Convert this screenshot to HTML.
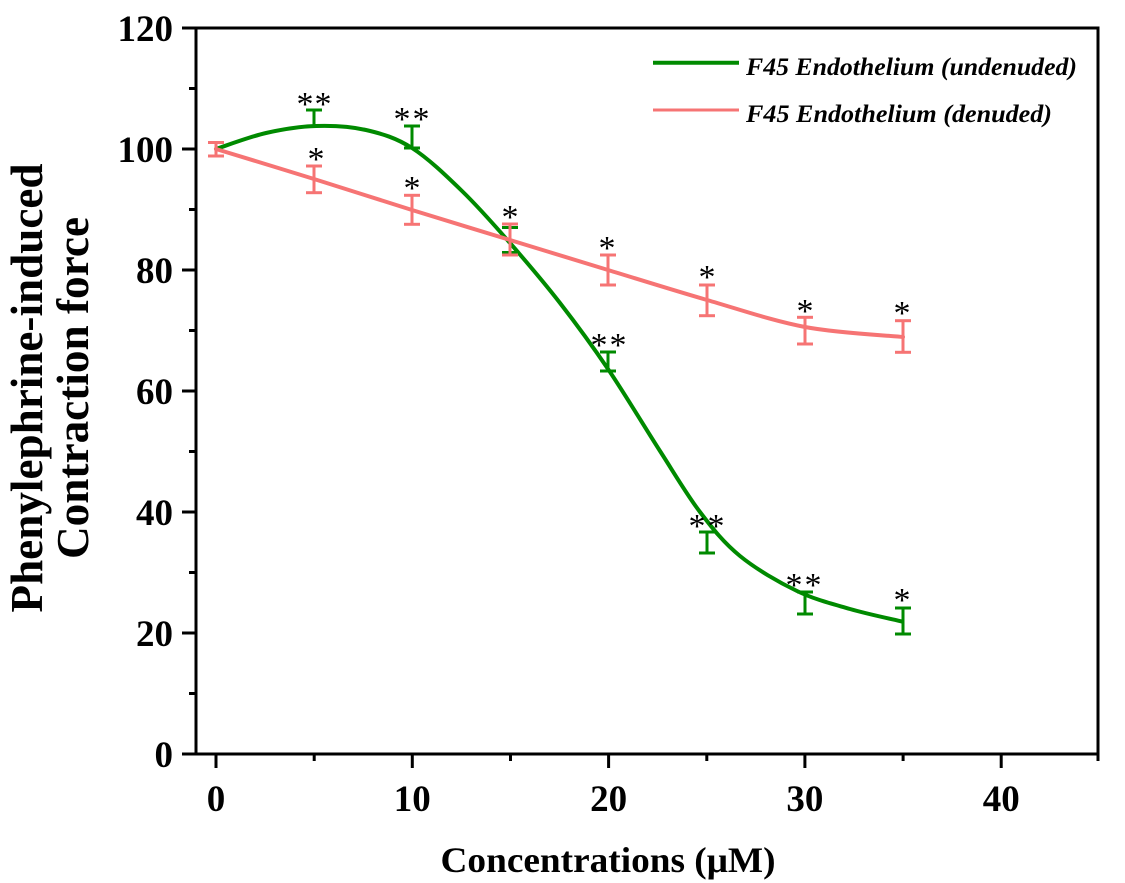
<!DOCTYPE html>
<html>
<head>
<meta charset="utf-8">
<style>
html,body{margin:0;padding:0;background:#fff;}
svg{display:block;}
text{font-family:"Liberation Serif","Times New Roman",serif;}
</style>
</head>
<body>
<svg width="1125" height="883" viewBox="0 0 1125 883" xmlns="http://www.w3.org/2000/svg">
<rect width="1125" height="883" fill="#fff"/>

<!-- axes box -->
<rect x="196" y="28" width="902" height="726" fill="none" stroke="#000" stroke-width="3"/>

<!-- y ticks -->
<g stroke="#000" stroke-width="3">
<line x1="182" y1="754" x2="196" y2="754"/>
<line x1="182" y1="633" x2="196" y2="633"/>
<line x1="182" y1="512" x2="196" y2="512"/>
<line x1="182" y1="391" x2="196" y2="391"/>
<line x1="182" y1="270" x2="196" y2="270"/>
<line x1="182" y1="149" x2="196" y2="149"/>
<line x1="182" y1="28" x2="196" y2="28"/>
<line x1="189" y1="693.5" x2="196" y2="693.5"/>
<line x1="189" y1="572.5" x2="196" y2="572.5"/>
<line x1="189" y1="451.5" x2="196" y2="451.5"/>
<line x1="189" y1="330.5" x2="196" y2="330.5"/>
<line x1="189" y1="209.5" x2="196" y2="209.5"/>
<line x1="189" y1="88.5" x2="196" y2="88.5"/>
<!-- x ticks -->
<line x1="216" y1="754" x2="216" y2="768"/>
<line x1="412.3" y1="754" x2="412.3" y2="768"/>
<line x1="608.6" y1="754" x2="608.6" y2="768"/>
<line x1="804.9" y1="754" x2="804.9" y2="768"/>
<line x1="1001.2" y1="754" x2="1001.2" y2="768"/>
<line x1="314.2" y1="754" x2="314.2" y2="761"/>
<line x1="510.5" y1="754" x2="510.5" y2="761"/>
<line x1="706.8" y1="754" x2="706.8" y2="761"/>
<line x1="903.1" y1="754" x2="903.1" y2="761"/>
<line x1="1098" y1="754" x2="1098" y2="761"/>
</g>

<!-- y tick labels -->
<g font-size="37" font-weight="bold" text-anchor="end" fill="#000">
<text x="173" y="767">0</text>
<text x="173" y="646">20</text>
<text x="173" y="525">40</text>
<text x="173" y="404">60</text>
<text x="173" y="283">80</text>
<text x="173" y="162">100</text>
<text x="173" y="41">120</text>
</g>
<!-- x tick labels -->
<g font-size="37" font-weight="bold" text-anchor="middle" fill="#000">
<text x="216" y="811">0</text>
<text x="412.3" y="811">10</text>
<text x="608.6" y="811">20</text>
<text x="804.9" y="811">30</text>
<text x="1001.2" y="811">40</text>
</g>

<!-- axis titles -->
<text x="608" y="872" font-size="36" font-weight="bold" text-anchor="middle" textLength="335" lengthAdjust="spacingAndGlyphs">Concentrations (μM)</text>
<g transform="translate(0,388) rotate(-90)" font-size="45" font-weight="bold" text-anchor="middle">
<text x="0" y="42" textLength="449" lengthAdjust="spacingAndGlyphs">Phenylephrine-induced</text>
<text x="0" y="88" textLength="342" lengthAdjust="spacingAndGlyphs">Contraction force</text>
</g>

<!-- green series -->
<g stroke="#008a00" fill="none">
<path stroke-width="4" stroke-linecap="round" d="M216,149 C224.3,146.3 249.3,136.8 266,133 C282.7,129.2 299.3,126.5 316,126 C332.7,125.5 350,126.3 366,130 C382,133.7 396,137.8 412,148 C428,158.2 445.7,175.2 462,191 C478.3,206.8 493.7,224.3 510,243 C526.3,261.7 543.7,282 560,303 C576.3,324 591.3,344.3 608,369 C624.7,393.7 644.7,427.2 660,451 C675.3,474.8 686.7,494.5 700,512 C713.3,529.5 723.8,542.8 740,556 C756.2,569.2 778.7,582.2 797,591 C815.3,599.8 832.5,603.9 850,609 C867.5,614.1 893.3,619.4 902,621.5"/>
<g stroke-width="3">
<line x1="216" y1="142.5" x2="216" y2="156"/><line x1="208" y1="142.5" x2="224" y2="142.5"/><line x1="208" y1="156" x2="224" y2="156"/>
<line x1="314" y1="110" x2="314" y2="126"/><line x1="306" y1="110" x2="322" y2="110"/>
<line x1="412" y1="126" x2="412" y2="148"/><line x1="404" y1="126" x2="420" y2="126"/><line x1="404" y1="148" x2="420" y2="148"/>
<line x1="510" y1="227.5" x2="510" y2="252.5"/><line x1="502" y1="227.5" x2="518" y2="227.5"/><line x1="502" y1="252.5" x2="518" y2="252.5"/>
<line x1="608" y1="352" x2="608" y2="371"/><line x1="600" y1="352" x2="616" y2="352"/><line x1="600" y1="371" x2="616" y2="371"/>
<line x1="707" y1="532" x2="707" y2="553"/><line x1="699" y1="532" x2="715" y2="532"/><line x1="699" y1="553" x2="715" y2="553"/>
<line x1="805" y1="592" x2="805" y2="614"/><line x1="797" y1="592" x2="813" y2="592"/><line x1="797" y1="614" x2="813" y2="614"/>
<line x1="903" y1="608" x2="903" y2="634"/><line x1="895" y1="608" x2="911" y2="608"/><line x1="895" y1="634" x2="911" y2="634"/>
</g>
</g>

<!-- red series -->
<g stroke="#f67474" fill="none">
<path stroke-width="4" stroke-linecap="round" d="M216,149 C232.3,154 281.3,168.8 314,179 C346.7,189.2 379.3,199.8 412,210 C444.7,220.2 477.3,230 510,240 C542.7,250 575.2,260 608,270 C640.8,280 674.2,290.5 707,300 C739.8,309.5 772.3,320.8 805,327 C837.7,333.2 886.7,335.3 903,337"/>
<g stroke-width="3">
<line x1="216" y1="142.5" x2="216" y2="156"/><line x1="208" y1="142.5" x2="224" y2="142.5"/><line x1="208" y1="156" x2="224" y2="156"/>
<line x1="314" y1="166" x2="314" y2="192.7"/><line x1="306" y1="166" x2="322" y2="166"/><line x1="306" y1="192.7" x2="322" y2="192.7"/>
<line x1="412" y1="195.3" x2="412" y2="224.3"/><line x1="404" y1="195.3" x2="420" y2="195.3"/><line x1="404" y1="224.3" x2="420" y2="224.3"/>
<line x1="510" y1="224" x2="510" y2="255"/><line x1="502" y1="224" x2="518" y2="224"/><line x1="502" y1="255" x2="518" y2="255"/>
<line x1="608" y1="255" x2="608" y2="285"/><line x1="600" y1="255" x2="616" y2="255"/><line x1="600" y1="285" x2="616" y2="285"/>
<line x1="707" y1="285" x2="707" y2="315.7"/><line x1="699" y1="285" x2="715" y2="285"/><line x1="699" y1="315.7" x2="715" y2="315.7"/>
<line x1="805" y1="317.3" x2="805" y2="344"/><line x1="797" y1="317.3" x2="813" y2="317.3"/><line x1="797" y1="344" x2="813" y2="344"/>
<line x1="903" y1="320.7" x2="903" y2="352.3"/><line x1="895" y1="320.7" x2="911" y2="320.7"/><line x1="895" y1="352.3" x2="911" y2="352.3"/>
</g>
</g>

<!-- significance asterisks -->
<g font-size="34" text-anchor="middle" fill="#000">
<text x="305" y="115">*</text><text x="323" y="115">*</text>
<text x="402" y="130">*</text><text x="421" y="130">*</text>
<text x="599" y="356">*</text><text x="618" y="356">*</text>
<text x="697" y="537">*</text><text x="716" y="537">*</text>
<text x="794" y="596">*</text><text x="813" y="596">*</text>
<text x="902" y="611">*</text>
<text x="316" y="170">*</text>
<text x="412" y="199">*</text>
<text x="510" y="228">*</text>
<text x="607" y="259">*</text>
<text x="707" y="288">*</text>
<text x="805" y="322">*</text>
<text x="902" y="324">*</text>
</g>

<!-- legend -->
<line x1="653" y1="62.7" x2="739" y2="62.7" stroke="#008a00" stroke-width="4"/>
<line x1="653" y1="110" x2="739" y2="110" stroke="#f67474" stroke-width="3"/>
<g font-size="25" font-weight="bold" font-style="italic" fill="#000">
<text x="746" y="75" textLength="331" lengthAdjust="spacingAndGlyphs">F45 Endothelium (undenuded)</text>
<text x="746" y="122" textLength="306" lengthAdjust="spacingAndGlyphs">F45 Endothelium (denuded)</text>
</g>
</svg>
</body>
</html>
